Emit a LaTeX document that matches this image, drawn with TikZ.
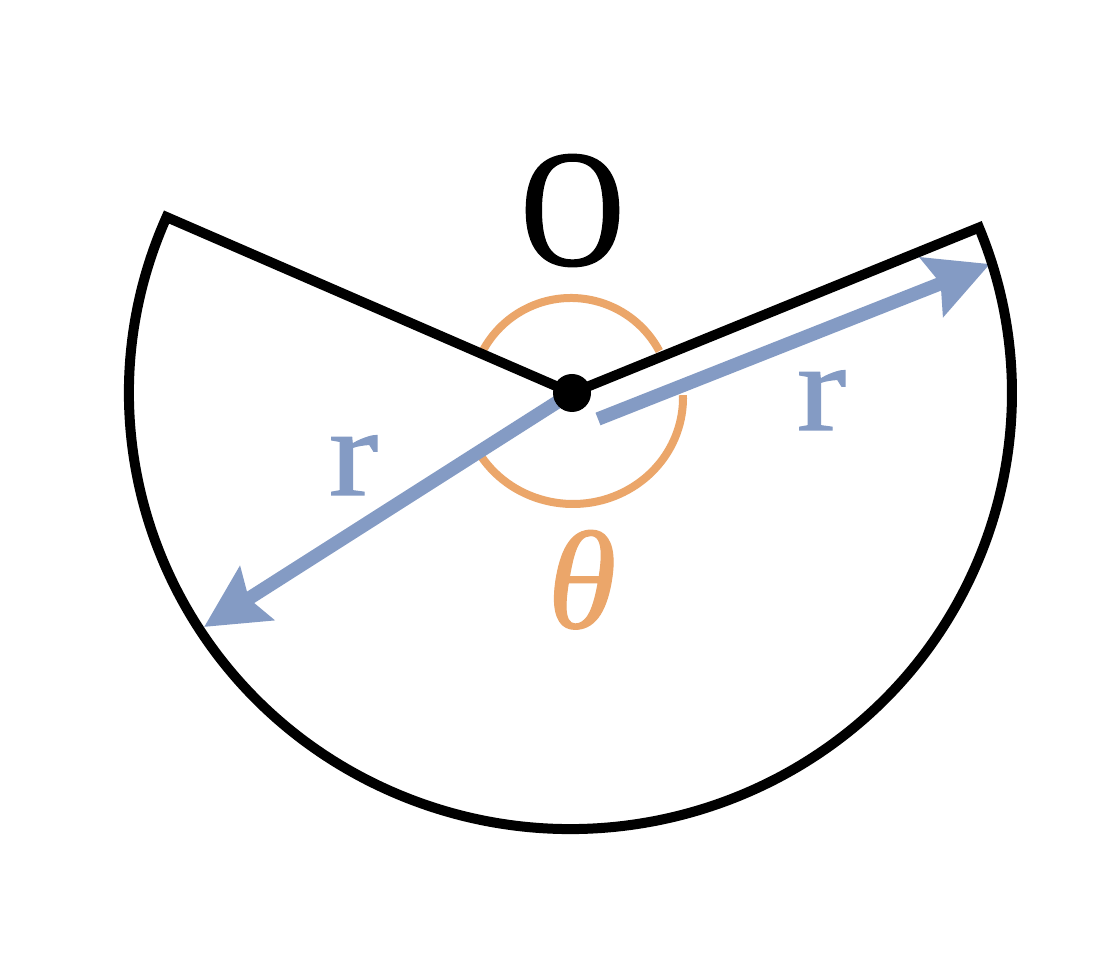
\documentclass[tikz,border=0pt]{standalone}
\usepackage{fontspec}
\setmainfont{Liberation Serif}
\newfontfamily\Ofont[FakeStretch=0.86,FakeBold=1]{Liberation Serif}
\newfontfamily\rfont[FakeStretch=1.18,FakeBold=1]{Liberation Serif}
\newfontfamily\thfont[FakeBold=0.8]{Liberation Serif}
\usetikzlibrary{arrows.meta,calc}
\definecolor{rblue}{RGB}{132,155,196}
\definecolor{torange}{RGB}{235,166,106}
\tikzset{
  radiusarrow/.style={draw=rblue, line width=13.5pt, line cap=butt,
    -{Stealth[length=62pt, width=62pt, inset=9pt, fill=rblue]}},
  anglearc/.style={draw=torange, line width=8pt, line cap=butt},
  sectoredge/.style={draw=black, line width=10pt, line join=miter},
  biglabel/.style={anchor=base, inner sep=0pt, font=\Ofont\fontsize{167}{167}\selectfont},
  rlabel/.style={anchor=base, inner sep=0pt, text=rblue, font=\rfont\fontsize{126}{126}\selectfont},
  thlabel/.style={anchor=base, inner sep=0pt, text=torange, font=\thfont\fontsize{140}{140}\selectfont\itshape}
}
\begin{document}
\begin{tikzpicture}[x=1pt,y=1pt]
\useasboundingbox[fill=white] (0,0) rectangle (1110,960);
% key points
\coordinate (C) at (570.5,567);
\coordinate (O) at (572,567);
\coordinate (L) at ($(C)+(156.2:441.5 and 436)$);
\coordinate (R) at ($(C)+(22.3:441.5 and 436)$);
\coordinate (a1s) at (570,566);
\coordinate (a1e) at (204,333);
\coordinate (a2s) at (598,541);
\coordinate (a2e) at (990,696);
% angle arcs
\draw[anglearc] ($(571,562)+(28:100)$) arc[start angle=28, end angle=152, radius=100];
\draw[anglearc] ($(573,562)+(213:110 and 106)$) arc[start angle=213, end angle=361.5, x radius=110, y radius=106];
% radius arrows
\draw[radiusarrow] (a1s) -- (a1e);
\draw[radiusarrow] (a2s) -- (a2e);
% sector outline
\draw[sectoredge] (O) -- (L) arc[start angle=156.2, end angle=382.3, x radius=441.5, y radius=436] -- cycle;
\fill[black] (O) circle (19);
% labels
\node[biglabel] (lo) at (572.5,695) {O};
\node[rlabel] (lr1) at (353.5,465) {r};
\node[rlabel] (lr2) at (821.5,530) {r};
\node[thlabel] (lth) at (582,332) {θ};
\end{tikzpicture}
\end{document}
